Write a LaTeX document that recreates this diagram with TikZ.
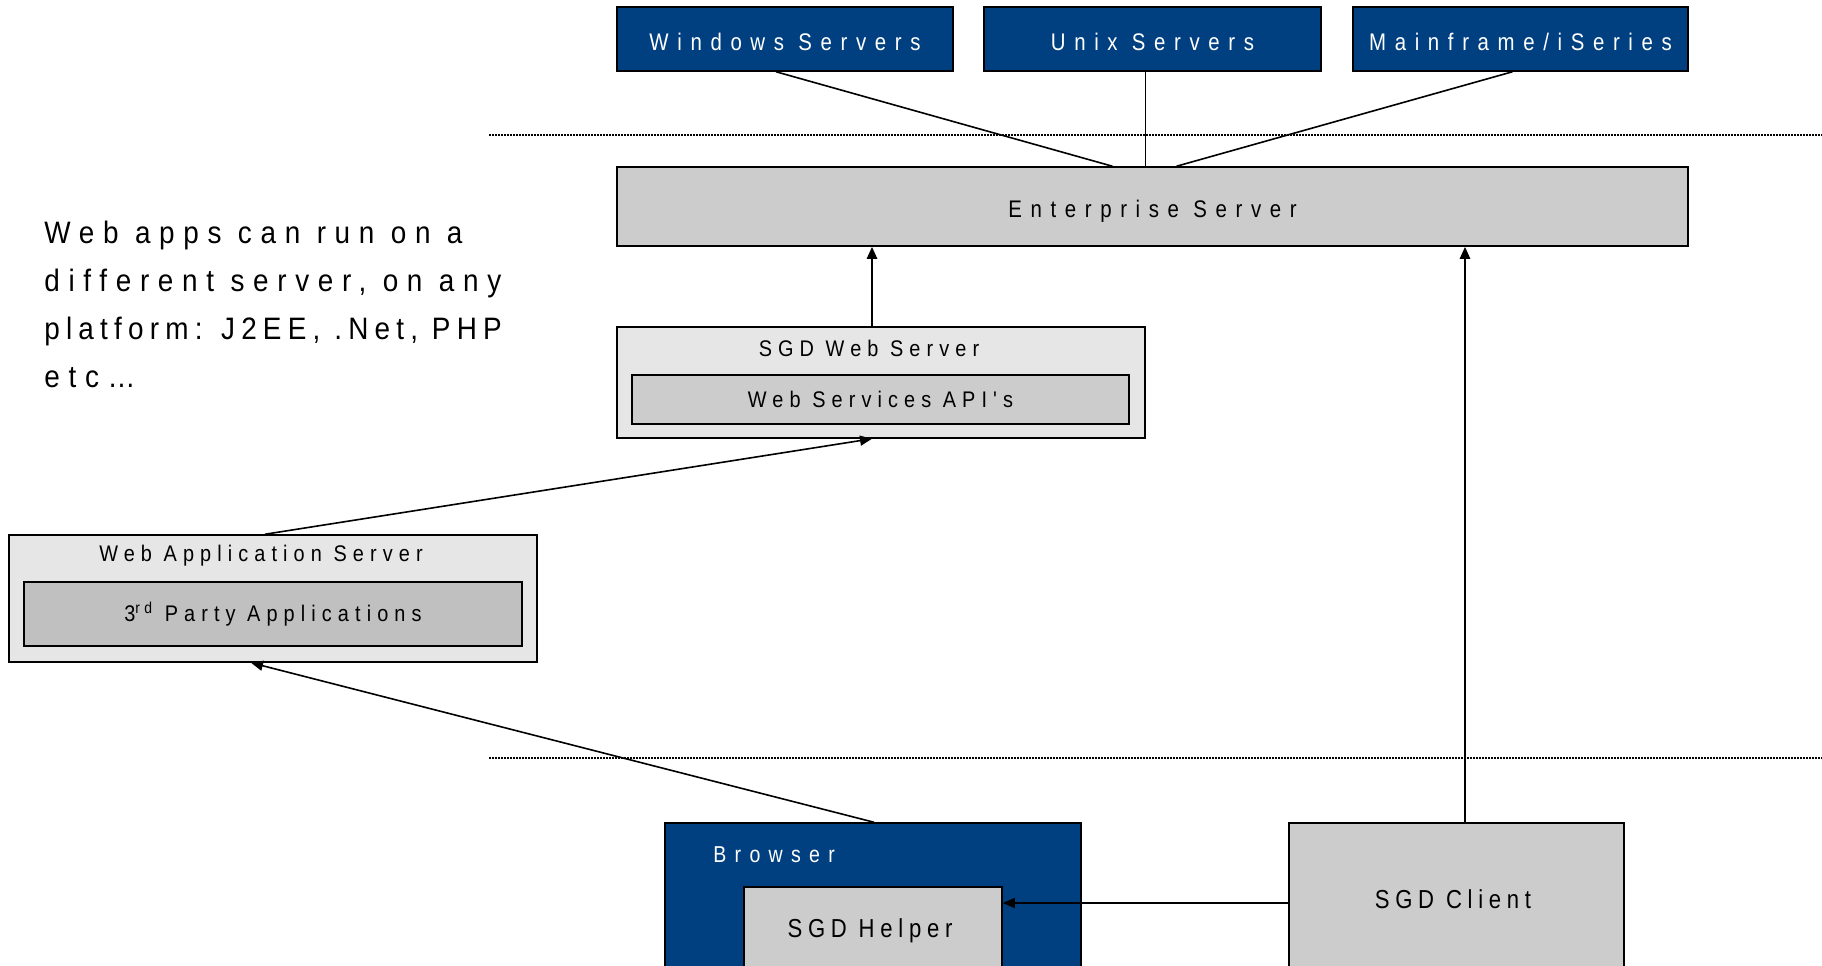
\documentclass[tikz,border=0pt]{standalone}
\usepackage{fontspec}
\setmainfont{Liberation Sans}
\newfontfamily\bxf[LetterSpace=36,FakeStretch=0.85]{Liberation Sans}
\newfontfamily\lbf[LetterSpace=27,FakeStretch=0.88]{Liberation Sans}
\newfontfamily\hlf[LetterSpace=22,FakeStretch=0.85]{Liberation Sans}
\newfontfamily\txf[LetterSpace=28,FakeStretch=0.9]{Liberation Sans}
\newfontfamily\txg[LetterSpace=20,FakeStretch=0.9]{Liberation Sans}
\usetikzlibrary{arrows.meta}
\definecolor{myblue}{RGB}{0,64,128}
\definecolor{gmid}{RGB}{204,204,204}
\definecolor{glight}{RGB}{230,230,230}
\definecolor{gdark}{RGB}{192,192,192}
\begin{document}
\begin{tikzpicture}[x=0.5pt,y=-0.5pt,
  boxbase/.style={draw=black, line width=0.75pt, inner sep=0pt, rectangle},
  bluebox/.style={boxbase, fill=myblue, text=white, text height=11pt, text depth=0pt, font=\bxf\fontsize{12}{14}\selectfont},
  greybox/.style={boxbase, fill=gmid, text height=11pt, text depth=0pt, font=\bxf\fontsize{12}{14}\selectfont},
  lightbox/.style={boxbase, fill=glight},
  innerbox/.style={boxbase, fill=gmid, font=\lbf\fontsize{11.3}{13}\selectfont},
  lbl/.style={inner sep=0pt, font=\lbf\fontsize{11.3}{13}\selectfont},
  conn/.style={line width=0.8pt},
  arr/.style={conn, -{Triangle[length=6pt,width=5pt]}},
  uparr/.style={line width=1.2pt, -{Triangle[length=6pt,width=5pt]}},
  sep/.style={line width=1pt, dash pattern=on 1pt off 0.5pt}
]
\useasboundingbox (0,0) rectangle (1822,965);
\clip (0,0) rectangle (1822,965);

% top servers
\node[bluebox, minimum width=168pt, minimum height=32pt] (win) at (785,39) {Windows Servers};
\node[bluebox, minimum width=168.5pt, minimum height=32pt] (unix) at (1152.5,39) {Unix Servers};
\node[bluebox, minimum width=167.5pt, minimum height=32pt] (main) at (1520.5,39) {Mainframe/iSeries};

% separators
\coordinate (s1a) at (489,135);
\coordinate (s1b) at (1822,135);
\coordinate (s2a) at (489,758);
\coordinate (s2b) at (1822,758);
\draw[sep] (s1a) -- (s1b);
\draw[sep] (s2a) -- (s2b);

% enterprise server
\node[greybox, minimum width=535.5pt, minimum height=39.5pt] (ent) at (1152.5,206.5) {Enterprise Server};

\draw[conn] ([xshift=-4.5pt]win.south) -- ([xshift=-20pt]ent.north);
\draw[conn] ([xshift=-3.5pt]unix.south) -- ([xshift=-3.5pt]ent.north);
\draw[conn] ([xshift=-4pt]main.south) -- ([xshift=12pt]ent.north);

% text block
\node[anchor=north west, inner sep=0pt, align=left,
      font=\txf\fontsize{15.5}{24}\selectfont] (note) at (44,221)
 {Web apps can run on a\\different server, on any\\{\txg platform: J2EE, .Net, PHP}\\etc\dots};

% SGD web server
\node[lightbox, minimum width=264pt, minimum height=55.5pt] (sws) at (881,382.5) {};
\node[lbl] (swsl) at (869,348) {SGD Web Server};
\node[innerbox, minimum width=248.5pt, minimum height=24.5pt] (wsa) at (880.5,399.5) {Web Services API's};
\draw[uparr] ([xshift=-4.5pt]sws.north) -- ([xshift=-140.25pt]ent.south);

% web application server
\node[lightbox, minimum width=264pt, minimum height=63.5pt] (was) at (273,598.5) {};
\node[lbl] (wasl) at (261,556) {Web Application Server};
\node[innerbox, fill=gdark, minimum width=249pt, minimum height=32pt] (tpa) at (273,614) {3\textsuperscript{rd} Party Applications};
\draw[arr] ([xshift=-4pt]was.north) -- ([xshift=-4.5pt]sws.south);

% browser
\node[boxbase, fill=myblue, minimum width=208pt, minimum height=90pt] (br) at (873,913) {};
\node[inner sep=0pt, text=white, anchor=west, font=\bxf\fontsize{11.5}{13}\selectfont] (brl) at (713,855) {Browser};
\node[greybox, minimum width=129pt, minimum height=58pt] (hlp) at (873,945) {};
\node[inner sep=0pt, font=\hlf\fontsize{13}{15}\selectfont] (hlpl) at (870,931) {SGD Helper};

% client
\node[greybox, minimum width=167.5pt, minimum height=90pt] (cl) at (1456.5,913) {};
\node[inner sep=0pt, font=\hlf\fontsize{13}{15}\selectfont] (cll) at (1453,899) {SGD Client};

\draw[arr] ([xshift=0.5pt]br.north) -- ([xshift=-11pt]was.south);
\coordinate (hl) at (0,903);
\draw[arr] (cl.west |- hl) -- (hlp.east |- hl);
\draw[uparr] ([xshift=4.25pt]cl.north) -- ([xshift=156.25pt]ent.south);
\end{tikzpicture}
\end{document}
